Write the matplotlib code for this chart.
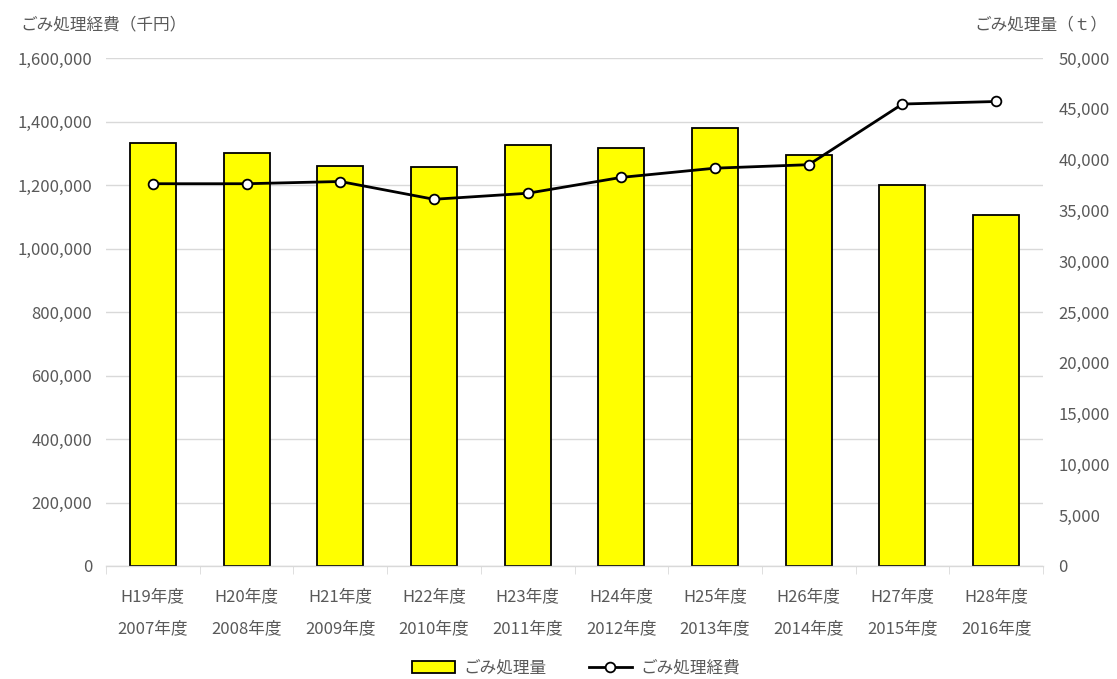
import numpy as np
import matplotlib
matplotlib.use("Agg")
import matplotlib.pyplot as plt
from matplotlib.ticker import FuncFormatter
from matplotlib.lines import Line2D
from matplotlib.patches import Patch

plt.rcParams['font.family'] = ['Noto Sans CJK JP', 'DejaVu Sans']

# data
wareki = ['H19', 'H20', 'H21', 'H22', 'H23', 'H24', 'H25', 'H26', 'H27', 'H28']
seireki = ['2007', '2008', '2009', '2010', '2011', '2012', '2013', '2014', '2015', '2016']
amount_t = [41600, 40650, 39370, 39240, 41440, 41110, 43110, 40490, 37500, 34550]
cost_yen1000 = [1204000, 1204000, 1211000, 1155000, 1174000, 1224000, 1253000, 1264000, 1455000, 1463000]

labels = [f'{w}年度\n{s}年度' for w, s in zip(wareki, seireki)]
x = np.arange(len(labels))
txt = '#595959'
grid_c = '#d9d9d9'
fs = 12

fig = plt.figure(figsize=(11.17, 6.79), dpi=100)
ax = fig.add_axes([106/1117, 1-566/679, (1043-106)/1117, (566-58)/679])
ax_bar = ax.twinx()
ax_line = ax.twinx()

# left axis: cost scale + grid
ax.set_ylim(0, 1600000)
ax.set_yticks(np.arange(0, 1600001, 200000))
ax.yaxis.set_major_formatter(FuncFormatter(lambda v, p: f'{int(v):,}'))
ax.grid(axis='y', color=grid_c, lw=1)
ax.set_axisbelow(True)
ax.set_xlim(-0.5, len(labels) - 0.5)
ax.set_xticks(x)
ax.set_xticklabels(labels, linespacing=2.15)
ax.set_xticks(np.arange(-0.5, len(labels), 1), minor=True)
ax.tick_params(axis='x', which='major', length=0, pad=16, colors=txt, labelsize=fs)
ax.tick_params(axis='x', which='minor', length=6, color=grid_c)
ax.tick_params(axis='y', length=0, pad=10, colors=txt, labelsize=fs)

# right axis: amount bars
ax_bar.bar(x, amount_t, width=0.49, color='#ffff00', edgecolor='black', lw=1.3)
ax_bar.set_ylim(0, 50000)
ax_bar.set_yticks(np.arange(0, 50001, 5000))
ax_bar.yaxis.set_major_formatter(FuncFormatter(lambda v, p: f'{int(v):,}'))
ax_bar.tick_params(axis='y', length=0, pad=11, colors=txt, labelsize=fs)

# cost line on top
ax_line.plot(x, cost_yen1000, color='black', lw=2, marker='o', ms=7,
             mfc='white', mec='black', mew=1.3)
ax_line.set_ylim(0, 1600000)
ax_line.set_yticks([])

for a in (ax, ax_bar, ax_line):
    for s in ('top', 'left', 'right'):
        a.spines[s].set_visible(False)
    a.spines['bottom'].set_color(grid_c)
    a.patch.set_visible(False)

fig.text(20/1117, 1-25/679, 'ごみ処理経費（千円）', color=txt, fontsize=fs, va='center', ha='left')
fig.text(1107/1117, 1-25/679, 'ごみ処理量（ｔ）', color=txt, fontsize=fs, va='center', ha='right')

handles = [Patch(facecolor='#ffff00', edgecolor='black', lw=1.3),
           Line2D([], [], color='black', lw=2, marker='o', ms=7, mfc='white', mec='black', mew=1.3)]
fig.legend(handles, ['ごみ処理量', 'ごみ処理経費'], loc='center', bbox_to_anchor=(576/1117, 1-668/679),
           ncol=2, frameon=False, fontsize=fs, labelcolor=txt, handlelength=2.6,
           handletextpad=0.5, columnspacing=2.5)

fig.savefig('out.png', dpi=100)
